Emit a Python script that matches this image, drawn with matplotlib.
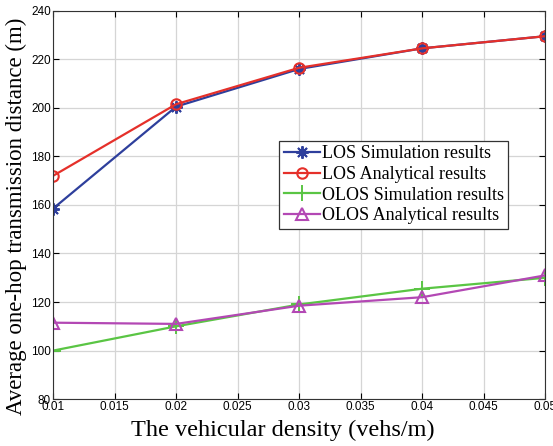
import matplotlib
matplotlib.use('Agg')
import matplotlib.pyplot as plt

density = [0.01, 0.02, 0.03, 0.04, 0.05]
los_sim = [158.5, 200.5, 216.0, 224.5, 229.5]
los_ana = [172.0, 201.5, 216.5, 224.5, 229.5]
olos_sim = [100.0, 110.0, 119.0, 125.5, 130.0]
olos_ana = [111.5, 111.0, 118.5, 122.0, 131.0]

serif = ['Liberation Serif', 'DejaVu Serif']
sans = ['Liberation Sans', 'DejaVu Sans']

fig = plt.figure(figsize=(5.53, 4.46), dpi=100)
ax = fig.add_axes([0.096, 0.105, 0.890, 0.871])

ax.plot(density, los_sim, color='#2e3f9c', marker=(8, 2, 0), markersize=9, lw=1.6,
        mew=1.4, label='LOS Simulation results')
ax.plot(density, los_ana, color='#e5302a', marker='o', markersize=7.5, lw=1.6,
        mfc='none', mew=1.5, label='LOS Analytical results')
ax.plot(density, olos_sim, color='#5ac544', marker='+', markersize=11, lw=1.6,
        mew=1.4, label='OLOS Simulation results')
ax.plot(density, olos_ana, color='#b348b4', marker='^', markersize=8.5, lw=1.6,
        mfc='none', mew=1.5, label='OLOS Analytical results')

ax.set_xlim(0.01, 0.05)
ax.set_ylim(80, 240)
ax.set_xticks([0.01, 0.015, 0.02, 0.025, 0.03, 0.035, 0.04, 0.045, 0.05])
ax.set_xticklabels(['0.01', '0.015', '0.02', '0.025', '0.03', '0.035', '0.04', '0.045', '0.05'])
ax.set_yticks(range(80, 241, 20))
ax.grid(True, color='#d5d5d5', lw=0.9)
ax.set_axisbelow(True)
ax.tick_params(direction='in', top=True, right=True, length=4, labelsize=8.5, pad=1.5)
for lab in ax.get_xticklabels() + ax.get_yticklabels():
    lab.set_family(sans)
for s in ax.spines.values():
    s.set_color('#333333')

ax.set_xlabel('The vehicular density (vehs/m)', family=serif, fontsize=17.5)
ax.set_ylabel('Average one-hop transmission distance (m)', family=serif, fontsize=16.5)
ax.xaxis.set_label_coords(0.467, -0.052)
ax.xaxis.label.set_va('top')
ax.yaxis.set_label_coords(-0.054, 0.47)

leg = ax.legend(loc='upper left', bbox_to_anchor=(0.46, 0.665), prop={'family': serif, 'size': 13},
                fancybox=False, edgecolor='#333333', framealpha=1, borderpad=0.25,
                labelspacing=0.2, handlelength=2.0, handletextpad=0.1, borderaxespad=0)
leg.get_frame().set_linewidth(0.9)

fig.savefig('out.png', dpi=100)
